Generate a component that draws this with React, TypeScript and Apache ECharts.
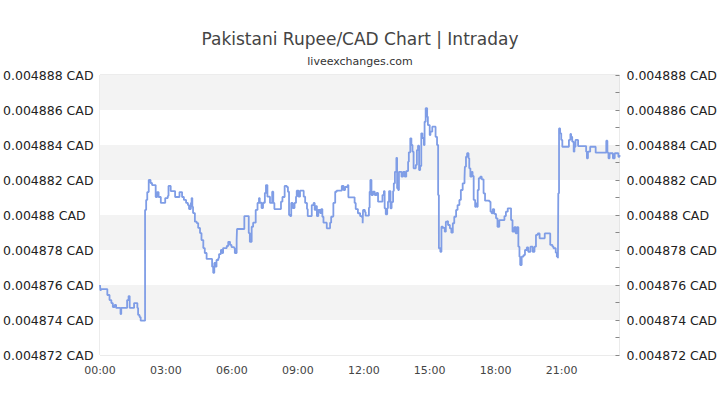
import React, { useEffect, useRef } from "react";
import * as echarts from "echarts";

const times: string[] = [
  "00:00","00:01","00:03","00:20","00:26","00:31","00:35","00:40","00:44","00:56","00:58","01:14","01:18","01:21","01:33","01:42","01:44","01:48","01:51",
  "02:03","02:06","02:09","02:13","02:18","02:22","02:32","02:36","02:40","02:46","02:58","03:05","03:07","03:13","03:25","03:37","03:44","03:49","03:55",
  "04:00","04:03","04:08","04:10","04:12","04:14","04:19","04:24","04:28","04:33","04:37","04:42","04:46","04:51","05:06","05:09","05:12","05:16","05:18",
  "05:23","05:25","05:30","05:34","05:36","05:46","05:50","05:55","05:59","06:06","06:08","06:13","06:14","06:34","06:46","06:49","06:54","06:58","07:05",
  "07:10","07:14","07:16","07:21","07:25","07:30","07:33","07:37","07:44","07:50","07:53","07:56","08:14","08:18","08:24","08:30","08:33","08:36","08:39",
  "08:42","08:46","08:51","08:55","08:57","09:02","09:06","09:16","09:20","09:25","09:27","09:38","09:43","09:46","09:49","09:52","09:56","10:01","10:04",
  "10:07","10:10","10:19","10:28","10:31","10:35","10:37","10:42","10:46","11:00","11:05","11:09","11:16","11:18","11:35","11:38","11:44","11:50","11:55",
  "11:57","11:58","12:03","12:05","12:14","12:16","12:18","12:21","12:25","12:30","12:35","12:39","12:51","12:55","12:57","13:00","13:04","13:06","13:09",
  "13:13","13:16","13:20","13:22","13:25","13:29","13:31","13:34","13:36","13:43","13:47","13:52","13:56","14:01","14:03","14:07","14:10","14:13","14:16",
  "14:22","14:25","14:28","14:31","14:34","14:37","14:40","14:44","14:46","14:49","14:53","14:55","15:00","15:02","15:07","15:16","15:20","15:23","15:25",
  "15:29","15:32","15:36","15:41","15:44","15:47","15:50","15:55","15:59","16:03","16:07","16:12","16:16","16:21","16:25","16:30","16:35","16:36","16:39",
  "16:42","16:46","16:48","16:51","16:55","16:57","17:00","17:04","17:06","17:09","17:11","17:14","17:18","17:22","17:27","17:31","17:43","17:46","17:49",
  "17:52","17:56","18:01","18:05","18:10","18:24","18:28","18:33","18:42","18:46","18:51","18:55","18:58","19:02","19:05","19:07","19:11","19:16","19:20",
  "19:25","19:29","19:35","19:41","19:46","19:50","19:55","20:00","20:14","20:29","20:35","20:38","20:44","20:47","20:50","20:51","20:53","20:56","20:59",
  "21:02","21:20","21:24","21:26","21:29","21:33","21:35","21:38","21:45","22:07","22:09","22:12","22:18","22:33","23:02","23:05","23:08","23:11","23:20",
  "23:25","23:35","23:38"
];

const rates: number[] = [
  0.0048760,0.00487571,0.00487577,0.00487543,0.00487514,0.00487497,0.00487474,0.00487486,0.00487469,0.00487434,0.00487469,0.00487514,0.00487537,0.00487469,0.00487497,0.00487469,0.00487429,0.00487417,0.00487396,
  0.00488029,0.00488086,0.00488131,0.00488200,0.00488183,0.00488171,0.00488103,0.00488131,0.00488103,0.00488069,0.00488097,0.00488109,0.00488166,0.00488137,0.00488103,0.00488131,0.00488103,0.00488086,0.00488069,
  0.00488057,0.00488034,0.00488069,0.00488097,0.00488047,0.00488011,0.00487962,0.00487954,0.00487926,0.00487897,0.00487857,0.00487811,0.00487783,0.00487749,0.00487705,0.00487670,0.00487726,0.00487705,0.00487743,
  0.00487754,0.00487777,0.00487800,0.00487783,0.00487811,0.00487823,0.00487847,0.00487829,0.00487817,0.00487811,0.00487783,0.00487857,0.00487920,0.00487994,0.00487897,0.00487847,0.00487933,0.00487956,0.00488029,
  0.00488069,0.00488097,0.00488070,0.00488040,0.00488070,0.00488126,0.00488171,0.00488105,0.00488069,0.00488133,0.00488069,0.00488034,0.00488076,0.00488103,0.00488166,0.00488160,0.00488133,0.00488000,0.00487994,
  0.00488069,0.00488040,0.00488069,0.00488105,0.00488139,0.00488105,0.00488139,0.00488105,0.00488069,0.00488034,0.00487994,0.00488057,0.00488069,0.00488029,0.00488051,0.00487994,0.00488029,0.00488011,0.00488034,
  0.00487990,0.00487956,0.00487924,0.00487956,0.00487990,0.00487994,0.00488069,0.00488133,0.00488139,0.00488166,0.00488143,0.00488160,0.00488171,0.00488101,0.00488069,0.00488034,0.00488010,0.00487994,0.00487987,
  0.00487953,0.00488029,0.00488017,0.00487996,0.00488042,0.00488133,0.00488200,0.00488114,0.00488133,0.00488114,0.00488126,0.00488076,0.00488114,0.00488137,0.00488038,0.00488004,0.00488038,0.00488076,0.00488137,
  0.00488038,0.00488074,0.00488137,0.00488181,0.00488247,0.00488327,0.00488153,0.00488143,0.00488247,0.00488219,0.00488246,0.00488219,0.00488251,0.00488305,0.00488358,0.00488438,0.00488400,0.00488362,0.00488267,
  0.00488286,0.00488371,0.00488396,0.00488257,0.00488280,0.00488467,0.00488440,0.00488400,0.00488533,0.00488610,0.00488562,0.00488514,0.00488457,0.00488476,0.00488505,0.00488447,0.00488400,0.00488114,0.00487810,
  0.00487790,0.00487933,0.00487926,0.00487905,0.00487962,0.00487966,0.00487943,0.00487924,0.00487899,0.00487953,0.00487990,0.00488029,0.00488057,0.00488086,0.00488143,0.00488181,0.00488210,0.00488276,0.00488333,
  0.00488353,0.00488324,0.00488267,0.00488219,0.00488247,0.00488223,0.00488086,0.00488047,0.00488067,0.00488047,0.00488143,0.00488210,0.00488219,0.00488204,0.00488124,0.00488082,0.00488076,0.00488019,0.00488010,
  0.00488033,0.00488006,0.00487981,0.00487933,0.00487971,0.00487994,0.00488019,0.00488038,0.00487971,0.00487905,0.00487930,0.00487895,0.00487930,0.00487819,0.00487762,0.00487714,0.00487762,0.00487771,0.00487800,
  0.00487815,0.00487790,0.00487819,0.00487790,0.00487819,0.00487886,0.00487895,0.00487867,0.00487895,0.00487829,0.00487819,0.00487810,0.00487785,0.00487762,0.00487753,0.00488124,0.00488495,0.00488467,0.00488429,
  0.00488390,0.00488429,0.00488463,0.00488447,0.00488419,0.00488362,0.00488390,0.00488429,0.00488394,0.00488362,0.00488324,0.00488362,0.00488390,0.00488356,0.00488425,0.00488356,0.00488324,0.00488353,0.00488324,
  0.00488353,0.00488333,0.00488343
];

const titleText = "Pakistani Rupee/CAD Chart | Intraday";
const subtitleText = "liveexchanges.com";
const yMin = 0.004872;
const yMax = 0.004888;
const yStep = 0.000002;
const xTickMinutes = 180;

const toMinutes = (s: string) => {
  const [h, m] = s.split(":").map(Number);
  return h * 60 + m;
};
const fmtTime = (v: number) => {
  const h = Math.floor(v / 60);
  const m = Math.round(v % 60);
  return `${String(h).padStart(2, "0")}:${String(m).padStart(2, "0")}`;
};
const fmtRate = (v: number) => `${parseFloat(v.toFixed(6))} CAD`;

export default function App() {
  const ref = useRef<HTMLDivElement>(null);
  useEffect(() => {
    if (!ref.current) return;
    const chart = echarts.init(ref.current, null, { renderer: "svg" });
    const data = times.map((t, i) => [toMinutes(t), rates[i]]);
    const font = "DejaVu Sans";
    const yCommon = {
      type: "value",
      min: yMin,
      max: yMax,
      interval: yStep,
      splitLine: { show: false },
      axisLine: { show: false },
    };
    chart.setOption({
      animation: false,
      backgroundColor: "#ffffff",
      title: [
        {
          text: titleText,
          left: "center",
          top: 25,
          textStyle: { fontFamily: font, fontSize: 17, fontWeight: "normal", color: "#444444" },
        },
        {
          text: subtitleText,
          left: "center",
          top: 51,
          textStyle: { fontFamily: font, fontSize: 11, fontWeight: "normal", color: "#333333" },
        },
      ],
      grid: {
        left: 100,
        right: 100,
        top: 75,
        bottom: 50,
        show: true,
        borderColor: "#d8d8d8",
        borderWidth: 1,
        backgroundColor: "transparent",
      },
      xAxis: {
        type: "value",
        min: 0,
        max: toMinutes(times[times.length - 1]),
        interval: xTickMinutes,
        axisLine: { show: false },
        axisTick: { show: false },
        splitLine: { show: false },
        axisLabel: {
          formatter: fmtTime,
          fontFamily: font,
          fontSize: 11,
          color: "#444444",
          margin: 10,
          showMaxLabel: false,
        },
      },
      yAxis: [
        {
          ...yCommon,
          position: "left",
          axisTick: { show: false },
          splitArea: { show: true, areaStyle: { color: ["#ffffff", "#f3f3f3"] } },
          axisLabel: {
            formatter: fmtRate,
            fontFamily: font,
            fontSize: 12.5,
            color: "#222222",
            align: "left",
            margin: 97,
          },
        },
        {
          ...yCommon,
          position: "right",
          axisTick: { show: true, inside: true, length: 4, lineStyle: { color: "#888888" } },
          minorTick: { show: true, splitNumber: 2, length: 4, lineStyle: { color: "#888888" } },
          splitArea: { show: false },
          axisLabel: {
            formatter: fmtRate,
            fontFamily: font,
            fontSize: 12.5,
            color: "#222222",
            align: "left",
            margin: 7,
          },
        },
      ],
      series: [
        {
          type: "line",
          data,
          step: "end",
          showSymbol: false,
          symbol: "none",
          lineStyle: { color: "#7f9de6", width: 1.8 },
          yAxisIndex: 0,
        },
      ],
    });
    return () => chart.dispose();
  }, []);
  return <div ref={ref} style={{ width: 720, height: 405, position: "absolute", left: 0, top: 0 }} />;
}
